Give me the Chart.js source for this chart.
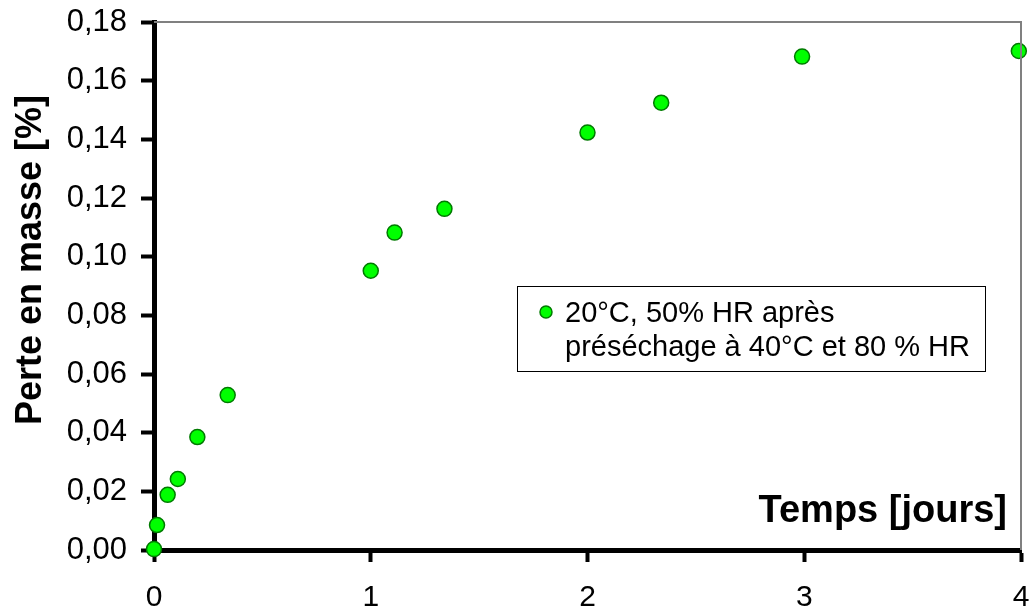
<!DOCTYPE html>
<html lang="fr">
<head>
<meta charset="utf-8">
<title>Perte en masse</title>
<script src="https://cdn.jsdelivr.net/npm/chart.js@4/dist/chart.umd.min.js"></script>
<style>
  html, body { margin: 0; padding: 0; background: #fff; }
  #wrap { width: 1030px; height: 610px; }
</style>
</head>
<body>
<div id="wrap"><canvas id="masseChart" width="1030" height="610"></canvas></div>
<script>
// données
const jours = [0, 0.014, 0.063, 0.11, 0.2, 0.34, 1.0, 1.11, 1.34, 2.0, 2.34, 2.99, 3.99];
const perteMasse = [0.0003, 0.0085, 0.0188, 0.0242, 0.0385, 0.0528, 0.0952, 0.1082, 0.1163, 0.1423, 0.1525, 0.1682, 0.1701];
const serieLabel = ['20°C, 50% HR après', 'préséchage à 40°C et 80 % HR'];
const titreY = 'Perte en masse [%]';
const titreX = 'Temps [jours]';

const police = "'Liberation Sans', Arial, sans-serif";

// cadre gris haut/droite, légende encadrée et titres placés comme dans Excel
const decorPlugin = {
    id: 'decor',
    afterDraw(chart) {
        const ctx = chart.ctx;
        const a = chart.chartArea;
        ctx.save();

        // bord gris
        ctx.strokeStyle = '#808080';
        ctx.lineWidth = 2;
        ctx.beginPath();
        ctx.moveTo(a.left, a.top);
        ctx.lineTo(a.right, a.top);
        ctx.lineTo(a.right, a.bottom);
        ctx.stroke();

        // titre de l'axe X (dans la zone de tracé)
        ctx.fillStyle = '#000';
        ctx.font = 'bold 38px ' + police;
        ctx.textAlign = 'right';
        ctx.textBaseline = 'alphabetic';
        ctx.fillText(titreX, 1007, a.bottom - 28);

        // titre de l'axe Y
        ctx.save();
        ctx.font = 'bold 36px ' + police;
        ctx.translate(41, 260);
        ctx.rotate(-Math.PI / 2);
        ctx.textAlign = 'center';
        ctx.fillText(titreY, 0, 0);
        ctx.restore();

        // légende
        const lx = 517, ly = 286, lw = 468, lh = 85;
        ctx.fillStyle = '#fff';
        ctx.fillRect(lx, ly, lw, lh);
        ctx.strokeStyle = '#000';
        ctx.lineWidth = 1;
        ctx.strokeRect(lx + 0.5, ly + 0.5, lw, lh);

        ctx.beginPath();
        ctx.arc(546, 312, 6, 0, Math.PI * 2);
        ctx.fillStyle = '#00ff00';
        ctx.fill();
        ctx.strokeStyle = '#007a00';
        ctx.lineWidth = 1.5;
        ctx.stroke();

        ctx.fillStyle = '#000';
        ctx.font = '29px ' + police;
        ctx.textAlign = 'left';
        ctx.textBaseline = 'alphabetic';
        ctx.fillText(serieLabel[0], 565, 322);
        ctx.fillText(serieLabel[1], 565, 356);

        ctx.restore();
    }
};

const points = jours.map((j, i) => ({ x: j, y: perteMasse[i] }));

new Chart(document.getElementById('masseChart').getContext('2d'), {
    type: 'scatter',
    data: {
        datasets: [{
            label: serieLabel.join(' '),
            data: points,
            backgroundColor: '#00ff00',
            borderColor: '#007a00',
            borderWidth: 1.5,
            pointRadius: 7.5,
            pointHoverRadius: 7.5,
            clip: false
        }]
    },
    options: {
        responsive: false,
        animation: false,
        layout: { padding: { top: 22, right: 2, left: 0, bottom: 0 } },
        plugins: {
            legend: { display: false },
            tooltip: { enabled: false }
        },
        scales: {
            x: {
                type: 'linear',
                min: 0,
                max: 4,
                afterFit: s => { s.height = 60; s.paddingLeft = 0; s.paddingRight = 0; },
                border: { display: true, color: '#000', width: 5 },
                grid: {
                    drawOnChartArea: false,
                    drawTicks: true,
                    tickLength: 12,
                    tickWidth: 4,
                    tickColor: '#000'
                },
                ticks: {
                    stepSize: 1,
                    padding: 18,
                    color: '#000',
                    font: { family: police, size: 30 }
                }
            },
            y: {
                min: 0,
                max: 0.18,
                afterFit: s => { s.width = 154; s.paddingTop = 0; s.paddingBottom = 0; },
                border: { display: true, color: '#000', width: 5 },
                grid: {
                    drawOnChartArea: false,
                    drawTicks: true,
                    tickLength: 13,
                    tickWidth: 4,
                    tickColor: '#000'
                },
                ticks: {
                    stepSize: 0.02,
                    padding: 14,
                    color: '#000',
                    font: { family: police, size: 31 },
                    callback: v => v.toFixed(2).replace('.', ',')
                }
            }
        }
    },
    plugins: [decorPlugin]
});
</script>
</body>
</html>
